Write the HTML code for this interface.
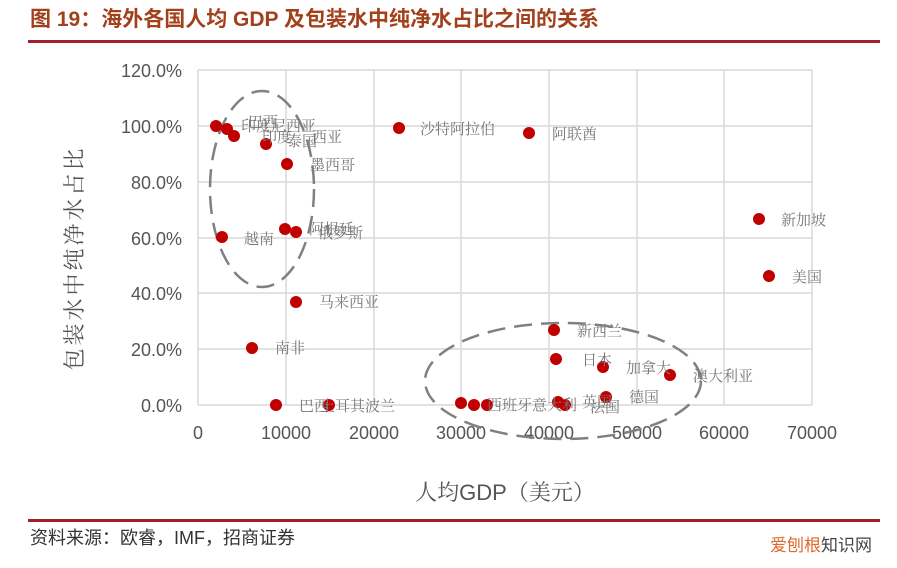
<!DOCTYPE html>
<html><head><meta charset="utf-8"><style>
body{margin:0;background:#fff;width:897px;height:563px;overflow:hidden;font-family:"Liberation Sans","Noto Sans CJK SC",sans-serif}
</style></head><body>
<svg width="897" height="563" xmlns="http://www.w3.org/2000/svg" font-family="Liberation Sans, Noto Sans CJK SC, sans-serif">
<text x="30" y="26" font-size="21" font-weight="bold" fill="#a3401c">图 19：海外各国人均 GDP 及包装水中纯净水占比之间的关系</text>
<rect x="28" y="40" width="852" height="3" fill="#a0202a"/>
<g stroke="#d9d9d9" stroke-width="1.5">
<line x1="198" y1="70" x2="812" y2="70"/><line x1="198" y1="126" x2="812" y2="126"/>
<line x1="198" y1="182" x2="812" y2="182"/><line x1="198" y1="238" x2="812" y2="238"/>
<line x1="198" y1="293" x2="812" y2="293"/><line x1="198" y1="349" x2="812" y2="349"/>
<line x1="198" y1="405" x2="812" y2="405"/>
<line x1="198" y1="70" x2="198" y2="405"/><line x1="286" y1="70" x2="286" y2="405"/>
<line x1="374" y1="70" x2="374" y2="405"/><line x1="461" y1="70" x2="461" y2="405"/>
<line x1="549" y1="70" x2="549" y2="405"/><line x1="637" y1="70" x2="637" y2="405"/>
<line x1="724" y1="70" x2="724" y2="405"/><line x1="812" y1="70" x2="812" y2="405"/>
</g>
<g font-size="18" fill="#555" text-anchor="end">
<text x="182" y="77">120.0%</text><text x="182" y="133">100.0%</text><text x="182" y="189">80.0%</text>
<text x="182" y="245">60.0%</text><text x="182" y="300">40.0%</text><text x="182" y="356">20.0%</text><text x="182" y="412">0.0%</text>
</g>
<g font-size="18" fill="#555" text-anchor="middle">
<text x="198" y="439">0</text><text x="286" y="439">10000</text><text x="374" y="439">20000</text><text x="461" y="439">30000</text>
<text x="549" y="439">40000</text><text x="637" y="439">50000</text><text x="724" y="439">60000</text><text x="812" y="439">70000</text>
</g>
<text x="505" y="500" font-size="22" fill="#555" text-anchor="middle" font-family="Liberation Sans, Noto Serif CJK SC, serif">人均GDP（美元）</text>
<text transform="translate(82,258) rotate(-90)" font-size="22" fill="#555" text-anchor="middle" letter-spacing="3" font-family="Noto Serif CJK SC, serif">包装水中纯净水占比</text>
<g fill="none" stroke="#808080" stroke-width="2.5" stroke-dasharray="18,9">
<ellipse cx="262" cy="189" rx="52" ry="98"/>
<ellipse cx="563" cy="381" rx="138" ry="58"/>
</g>
<g fill="#c00000">
<circle cx="216" cy="126" r="6"/><circle cx="227" cy="129" r="6"/><circle cx="234" cy="136" r="6"/>
<circle cx="266" cy="144" r="6"/><circle cx="287" cy="164" r="6"/><circle cx="222" cy="237" r="6"/>
<circle cx="285" cy="229" r="6"/><circle cx="296" cy="232" r="6"/><circle cx="296" cy="302" r="6"/>
<circle cx="252" cy="348" r="6"/><circle cx="276" cy="405" r="6"/><circle cx="329" cy="405" r="6"/>
<circle cx="399" cy="128" r="6"/><circle cx="529" cy="133" r="6"/><circle cx="759" cy="219" r="6"/>
<circle cx="769" cy="276" r="6"/><circle cx="554" cy="330" r="6"/><circle cx="556" cy="359" r="6"/>
<circle cx="603" cy="367" r="6"/><circle cx="670" cy="375" r="6"/><circle cx="606" cy="397" r="6"/>
<circle cx="461" cy="403" r="6"/><circle cx="474" cy="405" r="6"/><circle cx="487" cy="405" r="6"/>
<circle cx="558" cy="402" r="6"/><circle cx="565" cy="405" r="6"/>
</g>
<g font-size="15" fill="#777" font-family="Noto Serif CJK SC, serif">
<text x="241" y="131">印度尼西亚</text><text x="248" y="127">巴西</text><text x="262" y="142">印度</text>
<text x="287" y="146">泰国</text><text x="312" y="142">西亚</text><text x="310" y="170">墨西哥</text>
<text x="244" y="244">越南</text><text x="309" y="234">阿根廷</text><text x="318" y="238">俄罗斯</text>
<text x="319" y="307">马来西亚</text><text x="275" y="353">南非</text>
<text x="299" y="411">巴西</text><text x="320" y="411">土耳其波兰</text>
<text x="420" y="134">沙特阿拉伯</text><text x="552" y="139">阿联酋</text>
<text x="781" y="225">新加坡</text><text x="792" y="282">美国</text>
<text x="577" y="336">新西兰</text><text x="582" y="365">日本</text><text x="626" y="373">加拿大</text>
<text x="693" y="381">澳大利亚</text><text x="629" y="402">德国</text>
<text x="487" y="410">西班牙意大利</text><text x="582" y="407">英国</text><text x="590" y="412">法国</text>
</g>
<rect x="28" y="519" width="852" height="3" fill="#a0202a"/>
<text x="30" y="544" font-size="18" fill="#333">资料来源：欧睿，IMF，招商证券</text>
<text x="770" y="551" font-size="17" fill="#e06a2a">爱刨根<tspan fill="#444">知识网</tspan></text>
</svg>
</body></html>
